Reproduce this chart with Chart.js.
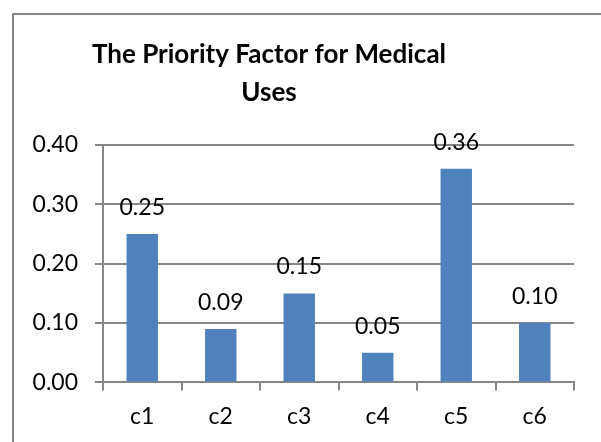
<!DOCTYPE html>
<html>
<head>
<meta charset="utf-8">
<script src="https://cdn.jsdelivr.net/npm/chart.js@4"></script>
<style>
  html, body { margin: 0; padding: 0; background: #fff; overflow: hidden; }
  #frame { position: absolute; left: 12px; top: 13px; width: 640px; height: 480px; border: 2px solid #868686; }
  #wrap { position: absolute; left: 0; top: 0; width: 601px; height: 442px; }
</style>
</head>
<body>
<div id="frame"></div>
<div id="wrap"><canvas id="myChart" width="601" height="442"></canvas></div>
<script>
const titleLines = ['The Priority Factor for Medical', 'Uses'];
const categories = ['c1', 'c2', 'c3', 'c4', 'c5', 'c6'];
const priority = [0.25, 0.09, 0.15, 0.05, 0.36, 0.10];
const yTicks = [0, 0.1, 0.2, 0.3, 0.4];

const fontFamily = 'Lato, "Open Sans", sans-serif';

// title drawn by hand so it can sit a bit left of the canvas centre, like the original
const chartTitle = {
    id: 'chartTitle',
    afterDraw(chart) {
        const ctx = chart.ctx;
        ctx.save();
        ctx.font = 'bold 26px ' + fontFamily;
        ctx.fillStyle = '#000';
        ctx.textAlign = 'center';
        ctx.textBaseline = 'alphabetic';
        ctx.fillText(titleLines[0], 269, 63);
        ctx.fillText(titleLines[1], 269, 101);
        ctx.restore();
    }
};

// draws the value above each bar
const valueLabels = {
    id: 'valueLabels',
    afterDatasetsDraw(chart) {
        const ctx = chart.ctx;
        const meta = chart.getDatasetMeta(0);
        ctx.save();
        ctx.font = '23px ' + fontFamily;
        ctx.fillStyle = '#000';
        ctx.textAlign = 'center';
        ctx.textBaseline = 'alphabetic';
        meta.data.forEach((bar, i) => {
            ctx.fillText(priority[i].toFixed(2), bar.x, bar.y - 19);
        });
        ctx.restore();
    }
};

const ctx = document.getElementById('myChart').getContext('2d');
const myChart = new Chart(ctx, {
    type: 'bar',
    data: {
        labels: categories,
        datasets: [{
            data: priority,
            backgroundColor: '#4F81BD',
            borderWidth: 0,
            barPercentage: 0.4,
            categoryPercentage: 1.0
        }]
    },
    options: {
        responsive: false,
        animation: false,
        layout: { padding: { left: 0, right: 27, top: 145, bottom: 0 } },
        plugins: {
            legend: { display: false },
            tooltip: { enabled: false },
            title: { display: false }
        },
        scales: {
            x: {
                grid: { drawOnChartArea: false, drawTicks: true, tickLength: 8, color: '#868686', lineWidth: 2 },
                border: { color: '#868686', width: 2 },
                ticks: { color: '#000', padding: 12, font: { family: fontFamily, size: 23 } }
            },
            y: {
                min: 0,
                max: 0.4,
                afterFit(scale) { scale.width = 103; },
                afterBuildTicks(scale) { scale.ticks = yTicks.map(v => ({ value: v })); },
                grid: { color: '#868686', lineWidth: 2, tickLength: 8 },
                border: { color: '#868686', width: 2 },
                ticks: {
                    color: '#000',
                    padding: 17,
                    font: { family: fontFamily, size: 23 },
                    callback: v => v.toFixed(2)
                }
            }
        }
    },
    plugins: [chartTitle, valueLabels]
});
</script>
</body>
</html>
